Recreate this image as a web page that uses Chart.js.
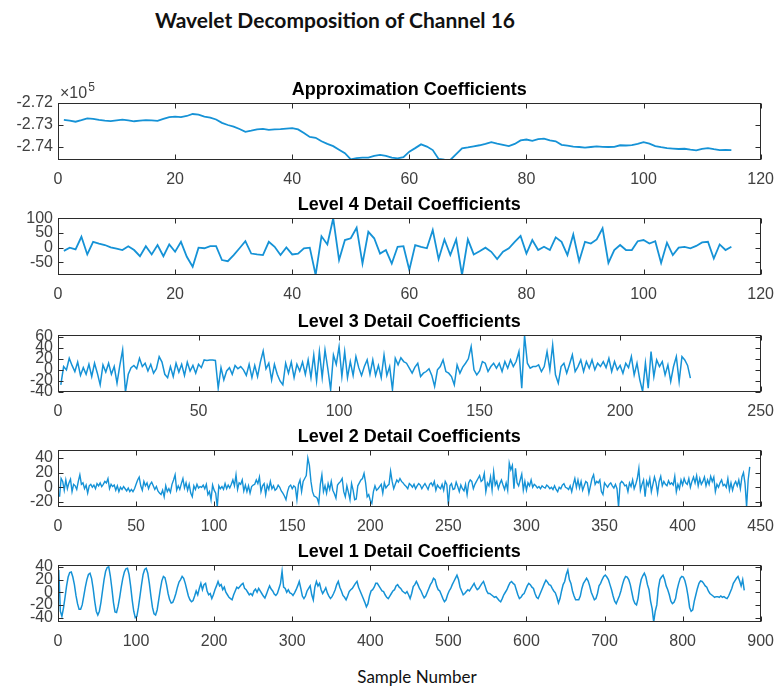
<!doctype html>
<html lang="en">
<head>
<meta charset="utf-8">
<title>Wavelet Decomposition of Channel 16</title>
<script src="https://cdn.jsdelivr.net/npm/chart.js@4.4.1/dist/chart.umd.min.js"></script>
<style>
    body { margin: 0; background: #fff; width: 784px; height: 689px; position: relative; overflow: hidden; }
    .fig-text { position: absolute; font-family: Lato, 'Open Sans', sans-serif; color: #111; text-align: center; white-space: nowrap; }
    #figTitle { left: 135px; width: 400px; top: 8px; line-height: 24px; font-size: 21px; font-weight: bold; }
    #xLabel { left: 317px; width: 200px; top: 666px; line-height: 22px; font-size: 17px; }
    canvas { position: absolute; left: 0; }
</style>
</head>
<body>
<div id="figTitle" class="fig-text">Wavelet Decomposition of Channel 16</div>
<canvas id="c0" width="784" height="109" style="top:81px"></canvas>
<canvas id="c1" width="784" height="109" style="top:196px"></canvas>
<canvas id="c2" width="784" height="109" style="top:313px"></canvas>
<canvas id="c3" width="784" height="109" style="top:428px"></canvas>
<canvas id="c4" width="784" height="109" style="top:543px"></canvas>
<div id="xLabel" class="fig-text">Sample Number</div>

<script>
// approximation coefficients (raw values, axis shown x10^5)
const approxY = [
    -272770,-272800,-272850,-272780,-272700,-272720,-272770,-272800,-272820,-272790,
    -272760,-272790,-272830,-272800,-272780,-272790,-272810,-272720,-272640,-272620,
    -272640,-272590,-272500,-272530,-272620,-272660,-272750,-272900,-273000,-273070,
    -273180,-273310,-273260,-273200,-273180,-273220,-273200,-273190,-273160,-273140,
    -273200,-273360,-273540,-273580,-273740,-273860,-273960,-274120,-274280,-274560,
    -274500,-274480,-274480,-274400,-274360,-274400,-274480,-274520,-274460,-274210,
    -274050,-273880,-273980,-274140,-274540,-274570,-274590,-274320,-274060,-274020,
    -273970,-273920,-273860,-273780,-273850,-273900,-273960,-273860,-273700,-273660,
    -273720,-273640,-273620,-273700,-273740,-273900,-273940,-273980,-274000,-274030,
    -274000,-273970,-273990,-274000,-273990,-273920,-273930,-273910,-273860,-273780,
    -273850,-273960,-274010,-274050,-274070,-274090,-274080,-274120,-274150,-274080,
    -274050,-274100,-274140,-274130,-274140
];
const approxTicks = [-274000, -273000, -272000];

const level4Y = [
    -11,0,-6,37,-23,20,14,9,1,-3,
    -8,5,-8,-29,5,-23,9,-29,11,-14,
    20,-31,-65,0,-2,5,5,-42,-46,-25,
    -2,22,-20,-23,-25,20,3,-25,1,-23,
    -20,-2,0,-93,39,11,100,-42,26,32,
    68,-54,54,32,-20,-8,-54,3,5,-76,
    9,3,-2,60,-39,28,-25,28,-93,28,
    -23,-12,0,-14,-39,-14,-2,20,40,-20,
    26,-8,3,-8,35,20,-25,45,-46,20,
    14,28,66,-52,-8,9,-8,-8,22,26,
    14,22,-52,17,-25,0,3,-2,6,18,
    20,-37,11,-8,3
];
const level4Ticks = [-50, 0, 50, 100];

const level3Y = [
    -27,6,0,21,8,-3,14,-10,4,-8,
    10,-12,12,-6,-27,9,-4,12,-8,6,
    -24,8,36,-40,-8,4,8,2,21,6,
    12,-2,10,-6,2,24,14,-8,-14,6,
    -12,12,-4,10,-10,14,-2,8,-6,10,
    4,18,17,18,18,17,-33,4,-18,-2,
    4,-8,8,2,6,0,-10,10,-14,8,
    -12,14,34,2,12,-18,10,-8,-20,-27,
    12,-6,14,-14,10,-2,14,-8,18,-14,
    27,-20,33,-14,36,2,-36,27,10,42,
    -12,33,-14,15,-10,24,4,-10,6,18,
    -8,18,-10,8,-14,27,-10,6,-36,21,
    9,22,15,12,3,-6,5,12,-12,-6,
    -3,2,-10,-30,0,6,18,-3,-6,-12,
    -27,9,-6,5,12,20,42,0,-9,-2,
    15,12,-3,6,12,3,12,-3,15,3,
    18,6,15,33,-33,62,12,3,6,6,
    9,-3,6,33,0,45,-9,-24,6,12,
    -6,10,27,-3,6,18,-3,15,3,18,
    0,12,6,15,4,21,-3,15,0,8,
    -6,12,4,24,-9,12,-18,-39,12,-33,
    33,-12,18,6,15,-9,9,-21,6,24,
    -21,24,18,8,-15
];
const level3Ticks = [-40, -20, 0, 20, 40, 60];

const level2Y = [
    -13,12,8,-4,10,-2,6,11,-6,4,
    2,-3,8,17,4,6,-2,3,-8,2,
    4,0,3,-2,5,2,6,1,4,8,
    6,12,-2,4,1,3,-4,2,-6,0,
    -3,1,-2,-5,-1,-6,-3,-6,-2,4,
    10,14,2,-4,8,2,6,-2,4,7,
    2,-3,1,-5,-8,-10,-4,-13,2,-6,
    -2,-7,4,10,17,-4,2,-3,5,12,
    -1,6,-4,4,-8,-13,2,-3,4,-1,
    1,0,3,-2,4,-10,-6,-17,3,-4,
    -8,-27,2,-2,1,-3,5,-2,3,-1,
    4,10,2,17,-3,6,4,10,-5,3,
    -6,2,-8,1,3,4,10,5,14,-6,
    2,5,-10,3,-3,8,-2,2,-4,-2,
    3,0,-5,-8,-12,-17,-6,1,3,-2,
    2,0,-17,4,10,-6,8,12,16,40,
    30,8,-6,-12,-13,-15,-22,4,17,-6,
    2,-8,5,-3,8,-4,-9,-15,3,6,
    8,12,-6,-13,2,-7,-17,5,-4,-17,
    -16,2,6,10,12,19,6,-13,-10,-18,
    -22,-6,2,-4,-2,1,4,-8,6,-1,
    2,4,22,8,-2,4,10,7,12,8,
    6,3,1,-2,5,3,0,4,-2,2,
    5,3,-2,2,5,1,-3,4,6,2,
    8,-4,3,0,-2,4,-4,8,4,-24,
    2,5,-3,-2,7,1,-6,3,-2,-5,
    4,-10,6,10,8,-2,4,8,12,16,
    8,10,19,-6,6,2,14,-4,21,3,
    8,-2,5,10,3,-3,6,-4,33,24,
    30,-2,26,6,2,10,18,-4,8,-4,
    6,2,10,0,4,2,-1,1,-2,2,
    0,-1,3,1,-2,0,-3,2,-3,-6,
    0,-2,3,5,0,-1,-3,2,-6,4,
    12,0,10,-1,8,-4,2,8,6,-8,
    2,12,17,4,8,6,10,-6,-10,6,
    3,0,4,6,2,-1,4,-2,-27,5,
    8,6,2,3,-6,6,1,10,-2,4,
    12,26,-4,4,10,-13,8,2,12,-6,
    4,14,6,-8,8,15,2,8,4,2,
    9,4,6,3,15,-6,4,-2,10,3,
    12,6,4,12,0,8,14,6,16,2,
    12,4,8,14,2,10,4,15,8,14,
    -6,4,0,6,10,2,4,0,12,-4,
    6,-4,4,8,2,10,-2,14,20,5,
    -27,10,28
];
const level2Ticks = [-20, 0, 20, 40];

// level 1 read at every other sample (1, 3, 5, ...)
const level1Y = [
    35,-30,-38,-25,-8,10,24,31,32,24,
    12,-5,-18,-27,-27,-20,-6,8,20,28,
    30,22,6,-14,-30,-36,-30,-16,2,20,
    33,39,40,26,6,-16,-31,-32,-22,-8,
    8,22,32,37,38,28,10,-12,-30,-40,
    -38,-24,-6,12,28,36,38,30,14,-6,
    -24,-34,-36,-28,-12,4,18,25,23,12,
    -2,-12,-17,-16,-10,-2,8,16,20,25,
    22,14,4,-6,-12,-15,-13,-6,2,-4,
    6,14,4,12,14,2,-4,-2,-10,-4,
    4,10,17,10,12,4,8,0,-4,-8,
    -10,-12,-4,2,8,6,9,12,14,6,
    4,0,-4,-2,-5,2,5,0,6,2,
    -2,-6,-9,-3,4,10,5,2,-3,-5,
    -2,6,14,33,8,6,0,4,-1,-2,
    -5,-1,4,10,17,6,-6,-10,-6,2,
    6,10,-4,-12,8,17,10,14,4,-2,
    2,7,-1,-6,-10,-7,-2,4,12,17,
    8,2,-5,-8,-12,-6,1,4,6,10,
    14,17,8,2,-4,-10,-16,-23,-18,-6,
    2,4,8,14,14,10,6,2,1,-4,
    -8,-10,-6,-2,2,4,10,12,8,6,
    2,0,-2,1,-4,-10,-2,9,12,17,
    12,6,2,-4,-9,-6,0,6,12,16,
    22,20,10,4,2,-4,-10,-15,-12,-4,
    2,6,12,17,22,27,20,8,2,-4,
    -2,1,4,2,6,10,14,8,4,6,
    10,14,17,10,2,-2,-2,-4,-6,-8,
    -7,-10,-13,-15,-10,-4,0,4,10,15,
    17,14,12,4,-4,-10,-8,-4,-2,4,
    10,14,12,8,6,-2,-8,-10,-4,2,
    8,14,19,16,12,11,6,2,-1,-8,
    -17,-10,2,12,17,28,35,20,14,2,
    -6,-12,-12,-12,-6,6,14,18,22,18,
    10,0,-6,-12,-10,-2,10,14,20,25,
    27,24,20,12,4,-6,-14,-18,-12,-6,
    2,12,20,25,24,20,12,0,-12,-18,
    -20,-10,8,20,26,30,24,12,4,-14,
    -26,-47,-30,-20,6,20,24,27,20,10,
    4,-4,-14,-18,-16,-10,4,14,22,25,
    24,18,8,-6,-24,-30,-28,-14,-4,6,
    14,18,17,14,10,8,2,-2,-4,-6,
    -8,-7,-7,-8,-6,-8,-7,-9,-10,-6,
    0,6,14,18,22,25,18,10,20,3
];
const level1Ticks = [-40, -20, 0, 20, 40];

// sample numbers for each series
const approxX = approxY.map((_, i) => i + 1);
const level4X = level4Y.map((_, i) => i + 1);
const level3X = level3Y.map((_, i) => i + 1);
const level2X = level2Y.map((_, i) => i + 1);
const level1X = level1Y.map((_, i) => 2 * i + 1);

const LINE = '#1592d6';
const TICK_FONT = { family: "'Liberation Sans', Arial, sans-serif", size: 16 };
const TITLE_FONT = { family: "'Liberation Sans', Arial, sans-serif", size: 18, weight: 'bold', lineHeight: 1 };

// matlab style box with inward ticks on all four sides
const boxPlugin = {
    id: 'box',
    afterDraw(chart, args, opts) {
        const { ctx, chartArea: a } = chart;
        const sx = chart.scales.x, sy = chart.scales.y;
        const L = Math.round(a.left) + 0.5, R = Math.round(a.right) - 0.5;
        const T = Math.round(a.top) + 0.5, B = Math.round(a.bottom) - 0.5;
        ctx.save();
        ctx.strokeStyle = '#2b2b2b';
        ctx.lineWidth = 1;
        ctx.strokeRect(L, T, R - L, B - T);
        ctx.beginPath();
        sx.ticks.forEach(t => {
            const px = Math.round(sx.getPixelForValue(t.value)) + 0.5;
            ctx.moveTo(px, B); ctx.lineTo(px, B - 5);
            ctx.moveTo(px, T); ctx.lineTo(px, T + 5);
        });
        sy.ticks.forEach(t => {
            const py = Math.round(sy.getPixelForValue(t.value)) + 0.5;
            ctx.moveTo(L, py); ctx.lineTo(L + 5, py);
            ctx.moveTo(R, py); ctx.lineTo(R - 5, py);
        });
        ctx.stroke();
        if (opts.exponent) {
            ctx.fillStyle = '#404040';
            ctx.textBaseline = 'alphabetic';
            ctx.font = "16px 'Liberation Sans', Arial, sans-serif";
            ctx.fillText('\u00d710', a.left + 2, a.top - 5);
            const w = ctx.measureText('\u00d710').width;
            ctx.font = "12px 'Liberation Sans', Arial, sans-serif";
            ctx.fillText(opts.exponent, a.left + 3 + w, a.top - 12);
        }
        ctx.restore();
    }
};

let makePanel = (id, p) => {
    new Chart(document.getElementById(id), {
        type: 'line',
        data: {
            datasets: [{
                data: p.xs.map((x, i) => ({ x: x, y: p.ys[i] })),
                borderColor: LINE,
                borderWidth: p.lw,
                pointRadius: 0,
                tension: 0,
                fill: false
            }]
        },
        options: {
            responsive: false,
            animation: false,
            events: [],
            layout: { padding: { left: 0, right: 17, top: 0, bottom: 0 } },
            plugins: {
                legend: { display: false },
                tooltip: { enabled: false },
                title: {
                    display: true, text: p.title, fullSize: false, color: '#000',
                    font: TITLE_FONT, padding: { top: 0, bottom: 4 }
                },
                box: { exponent: p.exponent }
            },
            scales: {
                x: {
                    type: 'linear', min: 0, max: p.xMax,
                    ticks: { stepSize: p.xStep, autoSkip: false, maxRotation: 0, padding: 10, font: TICK_FONT, color: '#404040' },
                    grid: { display: false, drawTicks: false },
                    border: { display: false },
                    afterFit: s => { s.height = 30; }
                },
                y: {
                    min: p.yMin, max: p.yMax,
                    afterBuildTicks: s => { s.ticks = p.yTicks.map(v => ({ value: v })); },
                    ticks: { autoSkip: false, padding: 5, font: TICK_FONT, color: '#404040', callback: v => p.fmt(v) },
                    grid: { display: false, drawTicks: false },
                    border: { display: false },
                    afterFit: s => { s.width = 58; }
                }
            }
        },
        plugins: [boxPlugin]
    });
};

makePanel('c0', { title: 'Approximation Coefficients', xs: approxX, ys: approxY, xMax: 120, xStep: 20,
    yMin: -274590, yMax: -272000, yTicks: approxTicks, fmt: v => (v / 1e5).toFixed(2), lw: 1.8, exponent: '5' });
makePanel('c1', { title: 'Level 4 Detail Coefficients', xs: level4X, ys: level4Y, xMax: 120, xStep: 20,
    yMin: -93, yMax: 101, yTicks: level4Ticks, fmt: v => String(v), lw: 1.8 });
makePanel('c2', { title: 'Level 3 Detail Coefficients', xs: level3X, ys: level3Y, xMax: 250, xStep: 50,
    yMin: -40, yMax: 63, yTicks: level3Ticks, fmt: v => String(v), lw: 1.5 });
makePanel('c3', { title: 'Level 2 Detail Coefficients', xs: level2X, ys: level2Y, xMax: 450, xStep: 50,
    yMin: -27, yMax: 51, yTicks: level2Ticks, fmt: v => String(v), lw: 1.4 });
makePanel('c4', { title: 'Level 1 Detail Coefficients', xs: level1X, ys: level1Y, xMax: 900, xStep: 100,
    yMin: -47, yMax: 43, yTicks: level1Ticks, fmt: v => String(v), lw: 1.5 });
</script>
</body>
</html>
